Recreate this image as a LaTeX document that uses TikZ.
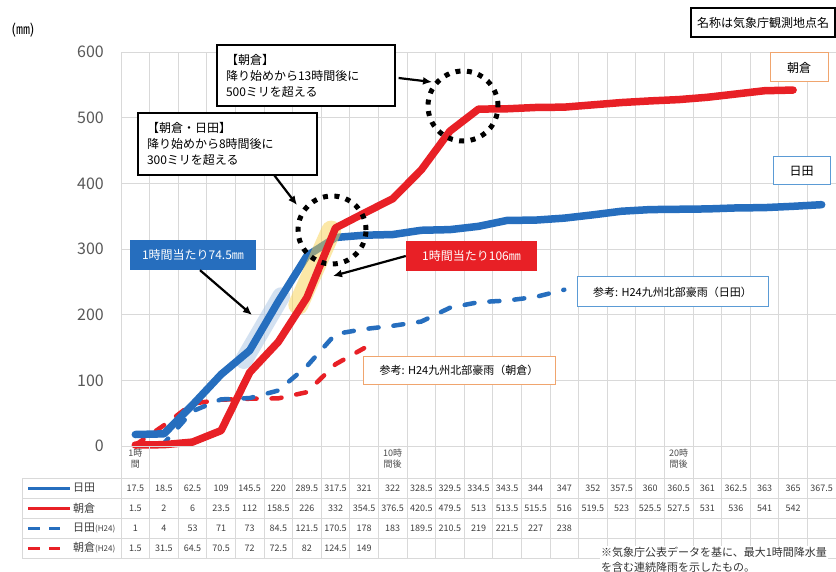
\documentclass[tikz,border=0pt]{standalone}
\usepackage{fontspec}
\setmainfont{Noto Sans CJK JP}
\usetikzlibrary{arrows.meta}

\definecolor{hitablue}{RGB}{38,110,190}
\definecolor{asakurared}{RGB}{232,32,38}
\definecolor{gridgray}{RGB}{217,217,217}
\definecolor{labelgray}{RGB}{89,89,89}
\definecolor{hitaframe}{RGB}{91,155,213}
\definecolor{asaframe}{RGB}{240,165,110}
\definecolor{glowyellow}{RGB}{250,210,80}

\tikzset{
  gridline/.style={gridgray, line width=0.7pt},
  hitaline/.style={hitablue, line width=7.5pt, line join=round, line cap=round},
  asaline/.style={asakurared, line width=7.5pt, line join=round, line cap=round},
  oldline/.style={line width=4.5pt, line cap=round, dash pattern=on 10pt off 15pt},
  notebox/.style={draw=black, line width=1.2pt, fill=white, align=left, text width=160pt,
    minimum width=178pt, minimum height=61pt, inner sep=0pt, font=\fontsize{12}{16}\selectfont},
  ratebox/.style={text=white, minimum height=30pt, inner sep=0pt, font=\fontsize{12}{14}\selectfont},
  refbox/.style={draw, line width=1pt, fill=white, inner sep=0pt, font=\fontsize{11}{13}\selectfont},
  callarrow/.style={-{Latex[length=9pt,width=8pt]}, line width=2.2pt},
  hoopline/.style={line width=5pt, dash pattern=on 5pt off 6.5pt},
  ticklabel/.style={labelgray, anchor=east, inner sep=0pt, font=\fontsize{16}{18}\selectfont},
  cellnum/.style={text=black!75, inner sep=0pt, font=\fontsize{9}{11}\selectfont},
  legendtext/.style={text=black!75, anchor=west, inner sep=0pt, font=\fontsize{11}{13}\selectfont},
  headnote/.style={text=black!70, align=center, anchor=north, inner sep=0pt, font=\fontsize{9}{11}\selectfont},
}

\begin{document}
\begin{tikzpicture}[x=1pt,y=-1pt]
        \useasboundingbox (0,0) rectangle (836,572);
        \fill[white] (0,0) rectangle (836,572);

        % plot area: columns of 28.6, 100 mm = 65.67
        \begin{scope}[shift={(121pt,-446pt)}, x=28.6pt, y=0.6567pt]
        \foreach \v in {100,200,...,600} \draw[gridline] (0,\v) -- (25,\v);
        \foreach \k in {0,...,25} \draw[gridline] (\k,0) -- (\k,600);
        \draw[asakurared, oldline] plot coordinates {(0.5,1.5) (1.5,31.5) (2.5,64.5) (3.5,70.5) (4.5,72) (5.5,72.5) (6.5,82) (7.5,124.5) (8.5,149)};
        \draw[hitablue, oldline] plot coordinates {(0.5,1) (1.5,4) (2.5,53) (3.5,71) (4.5,73) (5.5,84.5) (6.5,121.5) (7.5,170.5) (8.5,178) (9.5,183) (10.5,189.5) (11.5,210.5) (12.5,219) (13.5,221.5) (14.5,227) (15.5,238)};
        \draw[hitablue!40, line width=18pt, opacity=0.5, line cap=round] (4.3,131) -- (5.6,228);
        \draw[hitaline] plot coordinates {(0.5,17.5) (1.5,18.5) (2.5,62.5) (3.5,109) (4.5,145.5) (5.5,220) (6.5,289.5) (7.5,317.5) (8.5,321) (9.5,322) (10.5,328.5) (11.5,329.5) (12.5,334.5) (13.5,343.5) (14.5,344) (15.5,347) (16.5,352) (17.5,357.5) (18.5,360) (19.5,360.5) (20.5,361) (21.5,362.5) (22.5,363) (23.5,365) (24.5,367.5)};
        \draw[glowyellow, line width=20pt, opacity=0.5, line cap=round] (6.2,215) -- (7.35,328);
        \draw[asaline] plot coordinates {(0.5,1.5) (1.5,2) (2.5,6) (3.5,23.5) (4.5,112) (5.5,158.5) (6.5,226) (7.5,332) (8.5,354.5) (9.5,376.5) (10.5,420.5) (11.5,479.5) (12.5,513) (13.5,513.5) (14.5,515.5) (15.5,516) (16.5,519.5) (17.5,523) (18.5,525.5) (19.5,527.5) (20.5,531) (21.5,536) (22.5,541) (23.5,542)};
        \end{scope}

        % axis labels
        \node[font=\fontsize{14}{16}\selectfont] (unit) at (23,30) {(㎜)};
        \foreach \v in {0,100,...,600} \node[ticklabel] (tick\v) at (104,{446-\v*0.6567}) {\v};

        % table
        \foreach \k in {0,...,25} \draw[gridline] ({121+\k*28.6},446) -- ({121+\k*28.6},558);
        \draw[gridline] (22,478) -- (22,558);
        \draw[gridline] (121,446) -- (836,446);
        \foreach \r in {478,498,518,538,558} \draw[gridline] (22,\r) -- (836,\r);
        \node[headnote] (hour1) at ({121+0.5*28.6},449) {1時\\間};
        \node[headnote] (hour10) at ({121+9.5*28.6},449) {10時\\間後};
        \node[headnote] (hour20) at ({121+19.5*28.6},449) {20時\\間後};
        \draw[hitablue, line width=3pt] (28,488) -- (70,488);
        \node[legendtext] (legH) at (73,488) {日田};
        \draw[asakurared, line width=3pt] (28,508) -- (70,508);
        \node[legendtext] (legA) at (73,508) {朝倉};
        \draw[hitablue, line width=3pt, dash pattern=on 12pt off 9pt] (28,528) -- (60,528);
        \node[legendtext] (legHold) at (73,528) {日田{\fontsize{8}{9}\selectfont (H24)}};
        \draw[asakurared, line width=3pt, dash pattern=on 12pt off 9pt] (28,548) -- (60,548);
        \node[legendtext] (legAold) at (73,548) {朝倉{\fontsize{8}{9}\selectfont (H24)}};
        \foreach \v [count=\i] in {17.5,18.5,62.5,109,145.5,220,289.5,317.5,321,322,328.5,329.5,334.5,343.5,344,347,352,357.5,360,360.5,361,362.5,363,365,367.5}
            \node[cellnum] (hita\i) at ({121+(\i-0.5)*28.6},488) {\v};
        \foreach \v [count=\i] in {1.5,2,6,23.5,112,158.5,226,332,354.5,376.5,420.5,479.5,513,513.5,515.5,516,519.5,523,525.5,527.5,531,536,541,542}
            \node[cellnum] (asa\i) at ({121+(\i-0.5)*28.6},508) {\v};
        \foreach \v [count=\i] in {1,4,53,71,73,84.5,121.5,170.5,178,183,189.5,210.5,219,221.5,227,238}
            \node[cellnum] (hitaold\i) at ({121+(\i-0.5)*28.6},528) {\v};
        \foreach \v [count=\i] in {1.5,31.5,64.5,70.5,72,72.5,82,124.5,149}
            \node[cellnum] (asaold\i) at ({121+(\i-0.5)*28.6},548) {\v};
        \node[anchor=north west, fill=white, inner sep=1pt, align=left, text=black!80, font=\fontsize{11}{15}\selectfont] (footnote) at (600,546) {※気象庁公表データを基に、最大1時間降水量\\を含む連続降雨を示したもの。};

        % callouts
        \draw[hoopline] (332,230) circle[radius=34pt];
        \draw[hoopline] (463,106) circle[radius=35pt];
        \node[notebox] (noteA) at (306,75.5) {【朝倉】\\降り始めから13時間後に\\500ミリを超える};
        \node[notebox, minimum width=179pt, minimum height=62pt, text width=161pt] (noteB) at (227.5,144) {【朝倉・日田】\\降り始めから8時間後に\\300ミリを超える};
        \node[ratebox, fill=hitablue, minimum width=126pt] (rateH) at (193,255) {1時間当たり74.5㎜};
        \node[ratebox, fill=asakurared, minimum width=131pt] (rateA) at (471.5,256) {1時間当たり106㎜};
        \coordinate (tip500) at (432,82);
        \coordinate (tip300) at (297,205);
        \coordinate (tipH) at (252,315);
        \coordinate (tipA) at (333,276);
        \draw[callarrow] ([xshift=3pt,yshift=-2.5pt]noteA.east) -- (tip500);
        \draw[callarrow] ([xshift=47pt]noteB.south) -- (tip300);
        \draw[callarrow] ([xshift=7pt]rateH.south) -- (tipH);
        \draw[callarrow] (rateA.west) -- (tipA);

        % boxes
        \node[refbox, draw=hitaframe, minimum width=191pt, minimum height=30pt] (refH) at (672.5,292) {参考: H24九州北部豪雨（日田）};
        \node[refbox, draw=asaframe, minimum width=192pt, minimum height=28pt] (refA) at (459,370) {参考: H24九州北部豪雨（朝倉）};
        \node[refbox, draw=black, line width=1.2pt, minimum width=144pt, minimum height=29pt, font=\fontsize{12}{14}\selectfont] (source) at (763,22.5) {名称は気象庁観測地点名};
        \node[refbox, draw=asaframe, minimum width=58pt, minimum height=29pt, font=\fontsize{12}{14}\selectfont] (nameA) at (799,67.5) {朝倉};
        \node[refbox, draw=hitaframe, minimum width=57pt, minimum height=28pt, font=\fontsize{12}{14}\selectfont] (nameH) at (801.5,171) {日田};
    \end{tikzpicture}
\end{document}
